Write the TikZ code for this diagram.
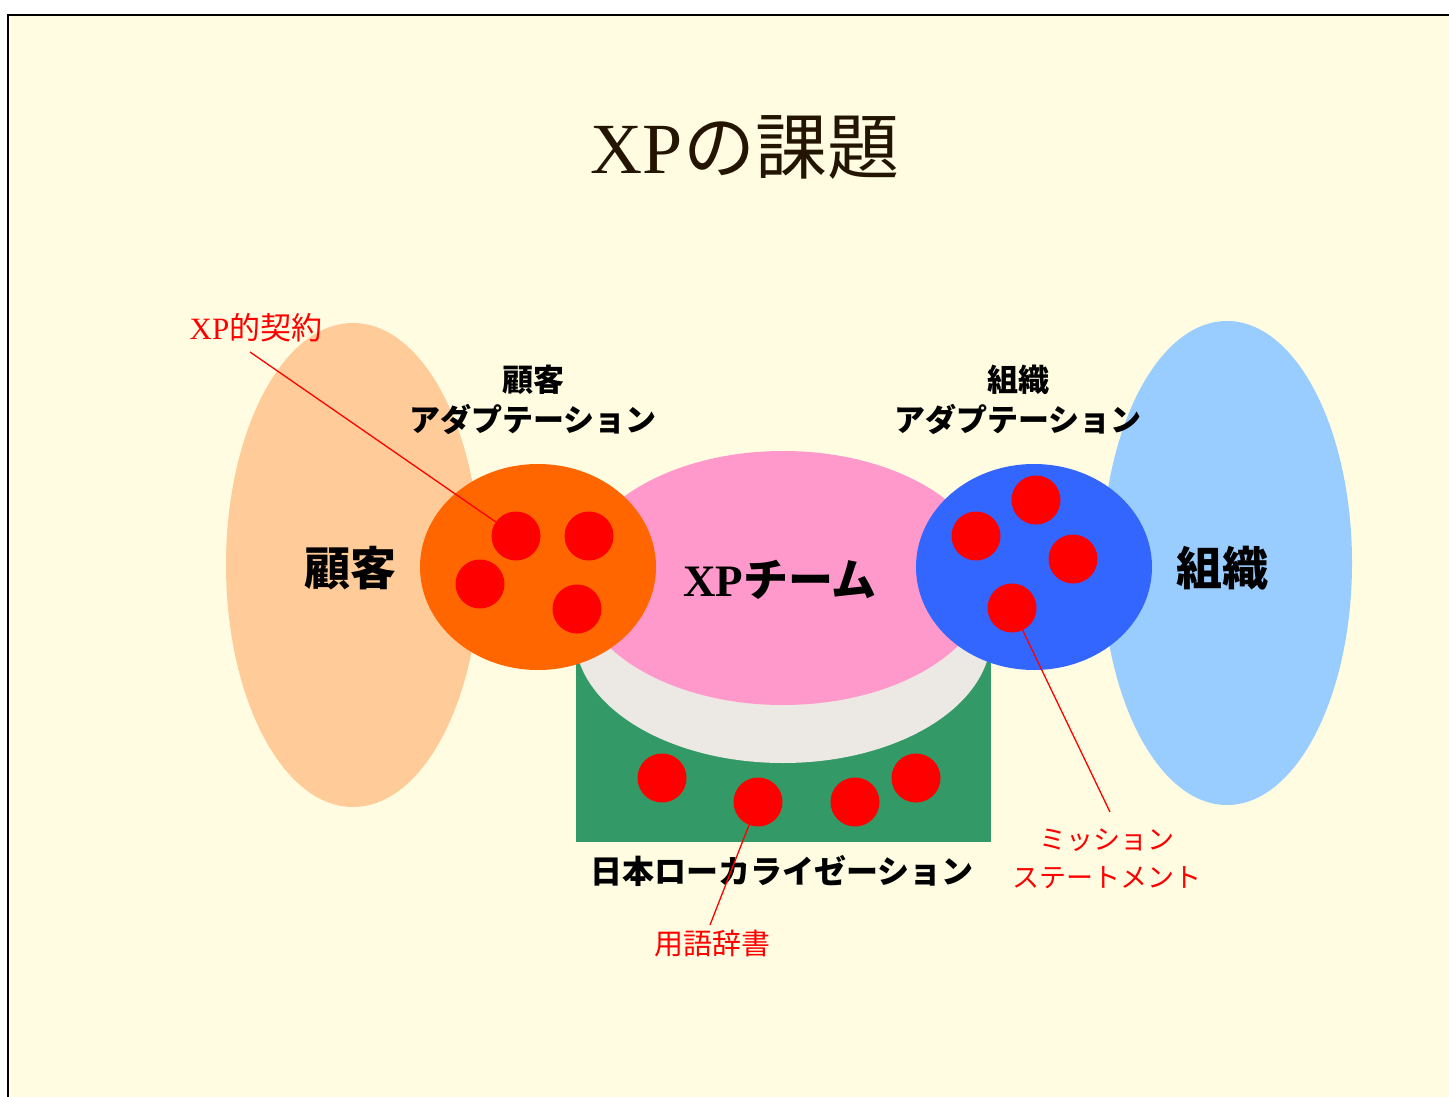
\documentclass[tikz,border=0pt]{standalone}
\usepackage{fontspec}
\setmainfont{Liberation Serif}
\newfontfamily\jp{Noto Sans CJK JP}
\definecolor{cream}{HTML}{FFFCE1}
\definecolor{peach}{HTML}{FFCC99}
\definecolor{lblue}{HTML}{99CCFF}
\definecolor{pinkc}{HTML}{FF99CC}
\definecolor{greyc}{HTML}{ECE8E3}
\definecolor{greenc}{HTML}{339966}
\definecolor{orangec}{HTML}{FF6600}
\definecolor{bluec}{HTML}{3366FF}
\definecolor{titlec}{HTML}{231502}
\tikzset{
  dot/.style={circle, fill=red, minimum size=49pt, inner sep=0pt},
  bigjp/.style={font=\jp\bfseries\fontsize{46}{52}\selectfont, text=black},
  midjp/.style={font=\jp\bfseries\fontsize{31}{40}\selectfont, text=black, align=center},
  redlbl/.style={text=red, align=center},
  conn/.style={draw=red, line width=1.3pt}
}
\begin{document}
\begin{tikzpicture}[x=1pt,y=-1pt]
\useasboundingbox (0,0) rectangle (1449,1097);
\fill[white] (0,0) rectangle (1449,1097);
\fill[cream] (8,15) rectangle (1449,1097);
\draw[line width=2pt] (8,1097) -- (8,15) -- (1449,15);
% big ellipses
\fill[peach] (353,565) ellipse [x radius=127pt, y radius=242pt];
\fill[lblue] (1227,563) ellipse [x radius=125pt, y radius=242pt];
% cylinder
\fill[greenc] (576,636) rectangle (991,842);
\fill[greyc] (783,636) ellipse [x radius=208pt, y radius=127pt];
\fill[pinkc] (783,578) ellipse [x radius=207pt, y radius=127pt];
% small ellipses
\fill[orangec] (538,567) ellipse [x radius=118pt, y radius=103pt];
\fill[bluec] (1034,567) ellipse [x radius=118pt, y radius=103pt];
% dots
\node[dot] (o1) at (516,536) {};
\node[dot] (o2) at (589,536) {};
\node[dot] (o3) at (480,584) {};
\node[dot] (o4) at (577,609) {};
\node[dot] (b1) at (1036,500) {};
\node[dot] (b2) at (976,536) {};
\node[dot] (b3) at (1073,559) {};
\node[dot] (b4) at (1012,608) {};
\node[dot] (g1) at (662,778) {};
\node[dot] (g2) at (758,802) {};
\node[dot] (g3) at (855,802) {};
\node[dot] (g4) at (916,778) {};
% title
\node[text=titlec, font=\fontsize{72}{80}\selectfont] (title) at (745,148) {XP{\jp の課題}};
% main labels
\node[bigjp] (kokyaku) at (350,568) {顧客};
\node[bigjp] (soshiki) at (1222,568) {組織};
\node[font=\bfseries\fontsize{45}{52}\selectfont] (xpteam) at (780,580) {XP{\jp チーム}};
\node[midjp] (kada) at (533,400) {顧客\\アダプテーション};
\node[midjp] (sada) at (1018,400) {組織\\アダプテーション};
\node[font=\jp\bfseries\fontsize{32}{40}\selectfont] (local) at (782,871) {日本ローカライゼーション};
% red labels
\node[redlbl, font=\fontsize{31}{36}\selectfont] (keiyaku) at (256,328) {XP{\jp 的契約}};
\node[redlbl, font=\jp\fontsize{27}{38}\selectfont] (mission) at (1107,859) {ミッション\\ステートメント};
\node[redlbl, font=\jp\fontsize{29}{36}\selectfont] (yougo) at (712,944) {用語辞書};
% connectors
\coordinate (kstart) at (250,352);
\coordinate (mend) at (1110,812);
\coordinate (yend) at (710,925);
\draw[conn] (kstart) -- (o1);
\draw[conn] (b4) -- (mend);
\draw[conn] (g2) -- (yend);
\end{tikzpicture}
\end{document}
